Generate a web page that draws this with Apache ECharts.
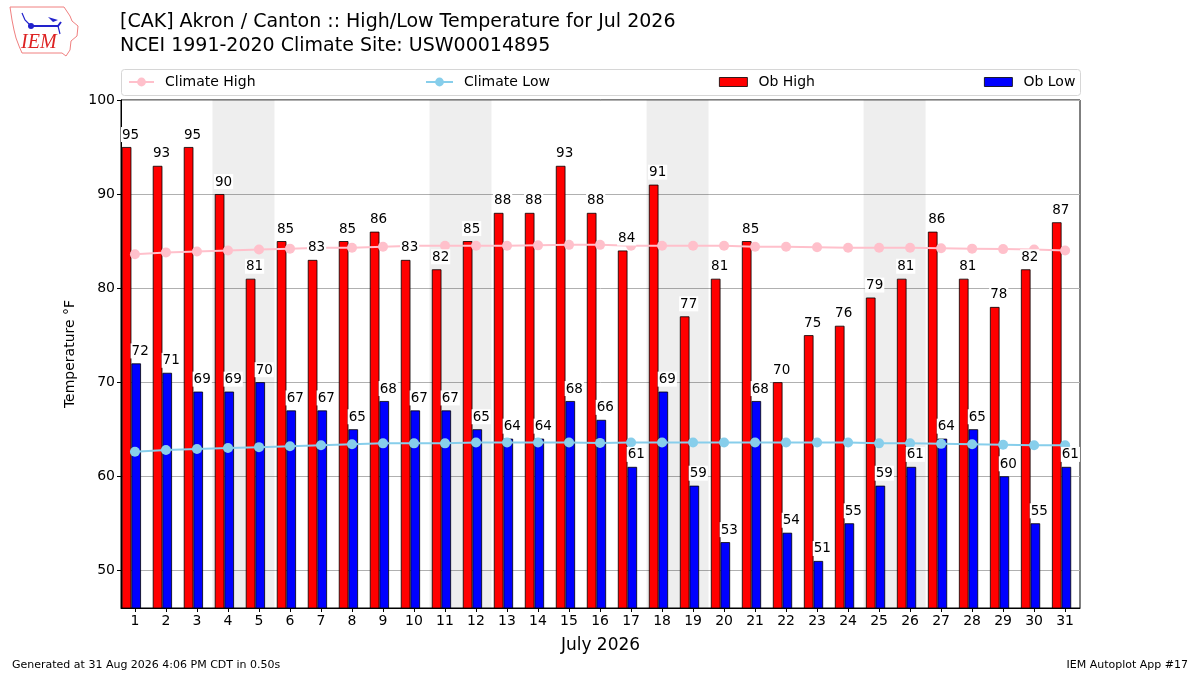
<!DOCTYPE html>
<html>
<head>
<meta charset="utf-8">
<script src="https://cdn.jsdelivr.net/npm/echarts@6/dist/echarts.min.js"></script>
<style>html,body{margin:0;padding:0;background:#fff}#c{width:1200px;height:675px}</style>
</head>
<body>
<div id="c"></div>
<script>
const days = [1,2,3,4,5,6,7,8,9,10,11,12,13,14,15,16,17,18,19,20,21,22,23,24,25,26,27,28,29,30,31];
const obHigh = [95,93,95,90,81,85,83,85,86,83,82,85,88,88,93,88,84,91,77,81,85,70,75,76,79,81,86,81,78,82,87];
const obLow = [72,71,69,69,70,67,67,65,68,67,67,65,64,64,68,66,61,69,59,53,68,54,51,55,59,61,64,65,60,55,61];
const climateHigh = [83.6,83.8,83.9,84.0,84.1,84.2,84.3,84.3,84.4,84.5,84.5,84.5,84.5,84.55,84.6,84.6,84.5,84.5,84.5,84.5,84.4,84.4,84.35,84.3,84.3,84.3,84.25,84.2,84.15,84.1,84.0];
const climateLow = [62.6,62.8,62.9,63.0,63.1,63.2,63.3,63.4,63.5,63.5,63.5,63.6,63.6,63.6,63.6,63.55,63.6,63.6,63.6,63.6,63.6,63.6,63.6,63.6,63.5,63.5,63.45,63.4,63.35,63.3,63.3];
const weekendStarts = [4, 11, 18, 25];
const yTicks = [50, 60, 70, 80, 90, 100];
const titleLines = ['[CAK] Akron / Canton :: High/Low Temperature for Jul 2026', 'NCEI 1991-2020 Climate Site: USW00014895'];

const FONT = 'DejaVu Sans';
const HIGH_OFF = -0.27, LOW_OFF = 0.04, BAR_W = 9.6;
const chart = echarts.init(document.getElementById('c'), null, {renderer: 'canvas'});

const labelStyle = {
  show: true, position: 'top', distance: 5, offset: [4, 0],
  color: '#000', fontSize: 13.5, fontFamily: FONT,
  backgroundColor: '#fff', padding: [1, 1, 0, 1]
};

const legendBase = {
  top: 75, padding: 0, itemGap: 12,
  textStyle: {fontSize: 14, fontFamily: FONT, color: '#000', padding: [0, 0, 0, 6]},
  selectedMode: false
};

function labelSeries(name, vals, off) {
  return {
    name: name + ' labels', type: 'bar', z: 5, barWidth: BAR_W, barGap: '-100%', silent: true,
    itemStyle: {color: 'rgba(0,0,0,0)', borderWidth: 0},
    label: labelStyle,
    data: days.map((d, i) => [d + off, vals[i]])
  };
}

chart.setOption({
  animation: false,
  backgroundColor: '#fff',
  grid: {left: 121, right: 120, top: 100, bottom: 67, show: true, borderColor: '#000', borderWidth: 1, backgroundColor: 'transparent'},
  legend: [
    Object.assign({}, legendBase, {left: 128, data: ['Climate High'], itemWidth: 25, itemHeight: 11}),
    Object.assign({}, legendBase, {left: 425, data: ['Climate Low'], itemWidth: 27, itemHeight: 11}),
    Object.assign({}, legendBase, {left: 719, data: [{name: 'Ob High', icon: 'rect'}], itemWidth: 28, itemHeight: 9,
      itemStyle: {borderWidth: 0.8, borderColor: '#000'}}),
    Object.assign({}, legendBase, {left: 984, data: [{name: 'Ob Low', icon: 'rect'}], itemWidth: 28, itemHeight: 9,
      itemStyle: {borderWidth: 0.8, borderColor: '#000'}})
  ],
  xAxis: {
    type: 'value', min: 0.55, max: 31.48,
    name: 'July 2026', nameLocation: 'middle', nameGap: 29,
    nameTextStyle: {fontSize: 17, fontFamily: FONT, color: '#000'},
    axisLine: {show: true, onZero: false, lineStyle: {color: '#000', width: 1}},
    axisTick: {show: true, length: 4, customValues: days, lineStyle: {color: '#000'}},
    axisLabel: {customValues: days, fontSize: 14, fontFamily: FONT, color: '#000', margin: 6},
    splitLine: {show: false}
  },
  yAxis: {
    type: 'value', min: 46, max: 100,
    name: 'Temperature °F', nameLocation: 'middle', nameGap: 43,
    nameTextStyle: {fontSize: 14, fontFamily: FONT, color: '#000'},
    axisLine: {show: true, lineStyle: {color: '#000', width: 1}},
    axisTick: {show: true, length: 4, customValues: yTicks, lineStyle: {color: '#000'}},
    axisLabel: {customValues: yTicks, fontSize: 14, fontFamily: FONT, color: '#000', margin: 6},
    splitLine: {show: true, lineStyle: {color: '#b0b0b0', width: 1}}
  },
  series: [
    {
      name: 'weekend', type: 'line', z: 1, data: [], silent: true,
      markArea: {
        silent: true, z: 1,
        itemStyle: {color: 'rgba(0,0,0,0.067)'},
        data: weekendStarts.map(d => [{xAxis: d - 0.5}, {xAxis: d + 1.5}])
      }
    },
    {
      name: 'Ob High', type: 'bar', z: 2, barWidth: BAR_W, barGap: '-100%',
      itemStyle: {color: '#ff0000', borderColor: '#000', borderWidth: 0.8},
      data: days.map((d, i) => [d + HIGH_OFF, obHigh[i]])
    },
    {
      name: 'Ob Low', type: 'bar', z: 2, barWidth: BAR_W, barGap: '-100%',
      itemStyle: {color: '#0000ff', borderColor: '#000', borderWidth: 0.8},
      data: days.map((d, i) => [d + LOW_OFF, obLow[i]])
    },
    {
      name: 'Climate High', type: 'line', z: 3, symbol: 'circle', symbolSize: 10,
      lineStyle: {color: '#ffc0cb', width: 2}, itemStyle: {color: '#ffc0cb'},
      data: days.map((d, i) => [d, climateHigh[i]])
    },
    {
      name: 'Climate Low', type: 'line', z: 3, symbol: 'circle', symbolSize: 10,
      lineStyle: {color: '#87ceeb', width: 2}, itemStyle: {color: '#87ceeb'},
      data: days.map((d, i) => [d, climateLow[i]])
    },
    labelSeries('Ob High', obHigh, HIGH_OFF),
    labelSeries('Ob Low', obLow, LOW_OFF)
  ],
  graphic: [
    {type: 'rect', left: 121, top: 69, z: 0, shape: {width: 959, height: 26, r: 3}, style: {fill: '#fff', stroke: '#d6d6d6', lineWidth: 1}},
    {type: 'text', left: 120, top: 13, style: {text: titleLines[0], font: '19px "DejaVu Sans"', fill: '#000'}},
    {type: 'text', left: 120, top: 37, style: {text: titleLines[1], font: '19px "DejaVu Sans"', fill: '#000'}},
    {type: 'text', left: 12, top: 660, style: {text: 'Generated at 31 Aug 2026 4:06 PM CDT in 0.50s', font: '11px "DejaVu Sans"', fill: '#000'}},
    {type: 'text', right: 12, top: 660, style: {text: 'IEM Autoplot App #17', font: '11px "DejaVu Sans"', fill: '#000'}},
    {type: 'polyline', shape: {points: [[10,7],[64,7],[70,16],[72,21],[78,26],[77,36],[71,41],[70,50],[66,56],[62,53],[22,53],[19,46],[16,38],[14,30],[12,20],[10,7]]}, style: {stroke: '#f08080', lineWidth: 1, fill: 'none'}},
    {type: 'polyline', shape: {points: [[30,26],[58,26],[61,22]]}, style: {stroke: '#2222cc', lineWidth: 2, fill: 'none'}},
    {type: 'circle', shape: {cx: 31, cy: 26, r: 3}, style: {fill: '#2222cc'}},
    {type: 'polyline', shape: {points: [[22,13],[25,20],[30,25]]}, style: {stroke: '#2222cc', lineWidth: 1.2, fill: 'none'}},
    {type: 'polygon', shape: {points: [[48,17],[58,20],[53,22]]}, style: {fill: '#2222cc'}},
    {type: 'polyline', shape: {points: [[58,26],[60,34]]}, style: {stroke: '#2222cc', lineWidth: 1.2, fill: 'none'}},
    {type: 'text', left: 21, top: 33, style: {text: 'IEM', font: 'italic 20px "Liberation Serif"', fill: '#dd2222'}}
  ]
});
</script>
</body>
</html>
